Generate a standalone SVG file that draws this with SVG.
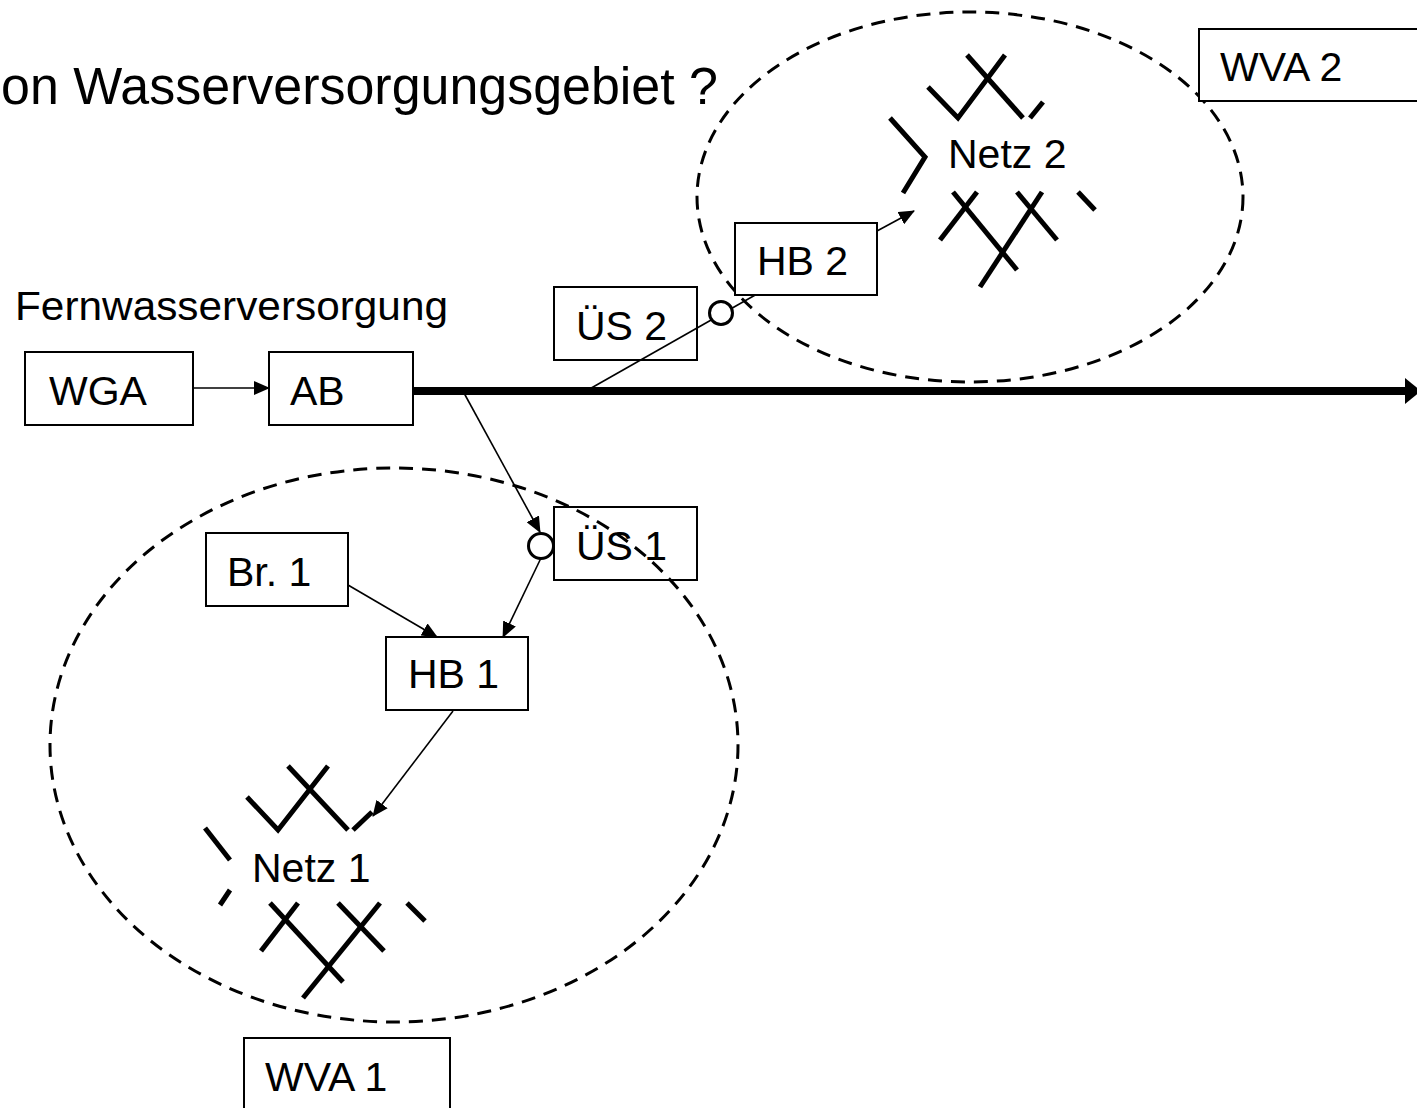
<svg xmlns="http://www.w3.org/2000/svg" width="1417" height="1108" viewBox="0 0 1417 1108">
<style>
text{font-family:"Liberation Sans",Arial,sans-serif;font-size:41px;fill:#000}
.box{fill:#fff;stroke:#000;stroke-width:2}
.ell{fill:none;stroke:#000;stroke-width:3;stroke-dasharray:14 9}
.con{fill:none;stroke:#000;stroke-width:1.6}
.net{fill:none;stroke:#000;stroke-width:5}
.ring{fill:#fff;stroke:#000;stroke-width:3}
</style>
<defs>
<marker id="ah" markerUnits="userSpaceOnUse" markerWidth="16" markerHeight="14" refX="15" refY="7" orient="auto">
<path d="M0,0 L16,7 L0,14 Z" fill="#000"/>
</marker>
</defs>
<rect width="1417" height="1108" fill="#fff"/>
<text x="1" y="104" style="font-size:51px" textLength="717" lengthAdjust="spacingAndGlyphs">on Wasserversorgungsgebiet ?</text>
<text x="15" y="320" textLength="433" lengthAdjust="spacingAndGlyphs">Fernwasserversorgung</text>
<g id="wva1-area"><ellipse class="ell" cx="394" cy="745" rx="344" ry="277"/></g>
<g id="wva2-area"><ellipse class="ell" cx="970" cy="197" rx="273" ry="185"/></g>
<g id="connectors">
<line class="con" x1="193" y1="388" x2="269" y2="388" marker-end="url(#ah)"/>
<line x1="413" y1="391" x2="1407" y2="391" stroke="#000" stroke-width="8"/>
<polygon points="1405,378 1421,391 1405,404" fill="#000"/>
<line class="con" x1="586" y1="391" x2="757" y2="294"/>
<line class="con" x1="877" y1="231" x2="914" y2="211" marker-end="url(#ah)"/>
<line class="con" x1="464" y1="393" x2="540" y2="532" marker-end="url(#ah)"/>
<line class="con" x1="541" y1="558" x2="503" y2="637" marker-end="url(#ah)"/>
<line class="con" x1="348" y1="585" x2="437" y2="637" marker-end="url(#ah)"/>
<line class="con" x1="453" y1="711" x2="373" y2="816" marker-end="url(#ah)"/>
</g>
<g id="wga"><rect class="box" x="25" y="352" width="168" height="73"/><text x="49" y="405">WGA</text></g>
<g id="ab"><rect class="box" x="269" y="352" width="144" height="73"/><text x="290" y="405">AB</text></g>
<g id="us2"><rect class="box" x="554" y="287" width="143" height="73" style="fill:none"/><text x="576" y="340">ÜS 2</text></g>
<g id="us2-valve"><circle class="ring" cx="721" cy="313" r="11.5"/></g>
<g id="hb2"><rect class="box" x="735" y="223" width="142" height="72"/><text x="757" y="275">HB 2</text></g>
<g id="netz2">
<polyline class="net" points="928,87 958,118 1005,55"/>
<line class="net" x1="967" y1="55" x2="1023" y2="118"/>
<line class="net" x1="1030" y1="118" x2="1043" y2="102"/>
<polyline class="net" points="890,118 925,157 903,193"/>
<line class="net" x1="953" y1="192" x2="1017" y2="270"/>
<line class="net" x1="977" y1="192" x2="940" y2="240"/>
<line class="net" x1="1042" y1="192" x2="980" y2="287"/>
<line class="net" x1="1017" y1="192" x2="1057" y2="240"/>
<line class="net" x1="1078" y1="192" x2="1095" y2="210"/>
<text x="948" y="168">Netz 2</text>
</g>
<g id="wva2"><rect class="box" x="1199" y="29" width="230" height="72"/><text x="1220" y="81">WVA 2</text></g>
<g id="us1"><rect class="box" x="554" y="507" width="143" height="73" style="fill:none"/><text x="576" y="560">ÜS 1</text></g>
<g id="us1-valve"><circle class="ring" cx="541" cy="546" r="12.5"/></g>
<g id="br1"><rect class="box" x="206" y="533" width="142" height="73"/><text x="227" y="586">Br. 1</text></g>
<g id="hb1"><rect class="box" x="386" y="637" width="142" height="73"/><text x="408" y="688">HB 1</text></g>
<g id="netz1">
<polyline class="net" points="247,797 278,830 328,766"/>
<line class="net" x1="288" y1="766" x2="348" y2="830"/>
<line class="net" x1="353" y1="830" x2="372" y2="812"/>
<line class="net" x1="205" y1="828" x2="230" y2="860"/>
<line class="net" x1="230" y1="890" x2="220" y2="905"/>
<line class="net" x1="270" y1="903" x2="343" y2="982"/>
<line class="net" x1="298" y1="903" x2="261" y2="951"/>
<line class="net" x1="380" y1="903" x2="303" y2="998"/>
<line class="net" x1="338" y1="903" x2="384" y2="951"/>
<line class="net" x1="407" y1="903" x2="425" y2="921"/>
<text x="252" y="882">Netz 1</text>
</g>
<g id="wva1"><rect class="box" x="244" y="1038" width="206" height="90"/><text x="265" y="1091">WVA 1</text></g>
</svg>
